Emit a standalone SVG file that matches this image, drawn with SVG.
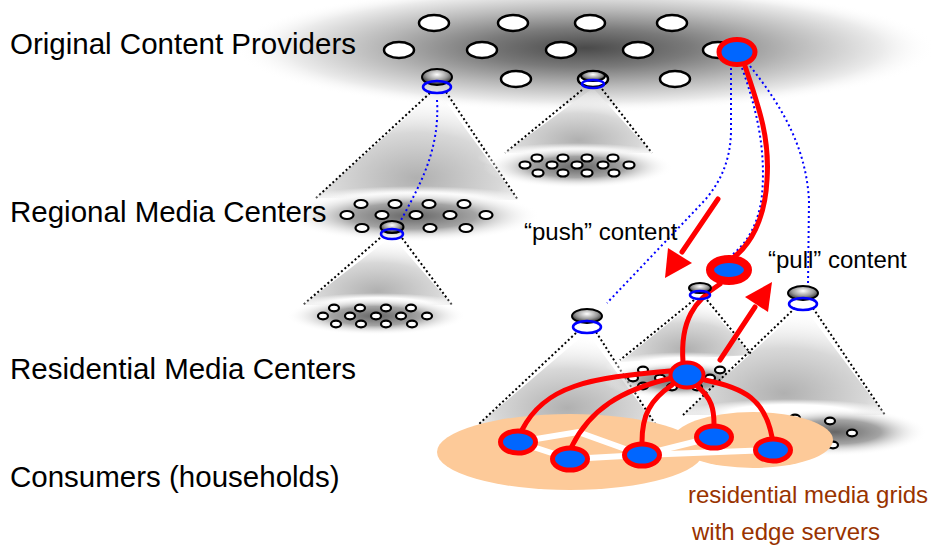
<svg xmlns="http://www.w3.org/2000/svg" width="933" height="546" viewBox="0 0 933 546">
<defs>
<radialGradient id="blob" cx="0.5" cy="0.5" r="0.5">
 <stop offset="0" stop-color="#4a4a4a"/>
 <stop offset="0.3" stop-color="#7a7a7a"/>
 <stop offset="0.6" stop-color="#bababa"/>
 <stop offset="0.85" stop-color="#ebebeb"/>
 <stop offset="1" stop-color="#fff" stop-opacity="0"/>
</radialGradient>
<radialGradient id="cone" cx="0.5" cy="0.8" r="0.75">
 <stop offset="0" stop-color="#b0b0b0"/>
 <stop offset="0.55" stop-color="#d8d8d8"/>
 <stop offset="1" stop-color="#fff" stop-opacity="0.2"/>
</radialGradient>
<radialGradient id="dish" cx="0.5" cy="0.5" r="0.5">
 <stop offset="0" stop-color="#666"/>
 <stop offset="0.5" stop-color="#a4a4a4"/>
 <stop offset="1" stop-color="#fff" stop-opacity="0"/>
</radialGradient>
<radialGradient id="lipg" cx="0.5" cy="0.5" r="0.5">
 <stop offset="0.6" stop-color="#fff"/>
 <stop offset="1" stop-color="#fff" stop-opacity="0"/>
</radialGradient>
<radialGradient id="srv" cx="0.5" cy="0.35" r="0.6">
 <stop offset="0" stop-color="#fff"/>
 <stop offset="0.6" stop-color="#999"/>
 <stop offset="1" stop-color="#333"/>
</radialGradient>
</defs>
<style>
 .lbl{font-family:"Liberation Sans",Arial,sans-serif;font-size:29.5px;fill:#000}
 .cap{font-family:"Liberation Sans",Arial,sans-serif;font-size:24px;fill:#000}
 .brown{font-family:"Liberation Sans",Arial,sans-serif;font-size:24px;fill:#993300}
 .pv{fill:#fff;stroke:#000;stroke-width:2.5}
 .sm{fill:#fff;stroke:#000;stroke-width:2.2}
 .dot{fill:none;stroke:#000;stroke-width:2;stroke-dasharray:2 2.5}
 .bdot{fill:none;stroke:#0000ff;stroke-width:2;stroke-dasharray:2 3}
 .srv{fill:url(#srv);stroke:#000;stroke-width:2}
 .ring{fill:none;stroke:#0000ff;stroke-width:2.5}
 .red{fill:none;stroke:#ff0000;stroke-width:5;stroke-linecap:round}
 .node{fill:#0066ff;stroke:#ff0000;stroke-width:5}
 .grid{fill:none;stroke:#fff;stroke-width:6}
 .cone{fill:url(#cone)}
 .dish{fill:url(#dish)}
 .lip{fill:url(#lipg)}
 .or{fill:#fdca99}
 .ah{fill:#ff0000}
</style>
<rect width="933" height="546" fill="#fff"/>

<!-- top blob -->
<ellipse cx="585" cy="48" rx="350" ry="64" fill="url(#blob)"/>

<!-- cone 1 + regional dish -->
<g id="cone1">
 <polygon class="cone" points="437,90 316,198 518,200"/>
 <line class="dot" x1="430" y1="93" x2="316" y2="198"/>
 <line class="dot" x1="446" y1="92" x2="518" y2="200"/>
 <ellipse class="lip" cx="415" cy="203" rx="125" ry="17"/>
 <ellipse class="dish" cx="412" cy="216" rx="128" ry="26"/>
</g>
<g id="regional-cluster">
 <ellipse class="sm" cx="361" cy="204" rx="6.5" ry="4"/>
 <ellipse class="sm" cx="395" cy="204" rx="6.5" ry="4"/>
 <ellipse class="sm" cx="429" cy="204" rx="6.5" ry="4"/>
 <ellipse class="sm" cx="464" cy="204" rx="6.5" ry="4"/>
 <ellipse class="sm" cx="347" cy="215" rx="6.5" ry="4"/>
 <ellipse class="sm" cx="382" cy="215" rx="6.5" ry="4"/>
 <ellipse class="sm" cx="416" cy="215" rx="6.5" ry="4"/>
 <ellipse class="sm" cx="450" cy="215" rx="6.5" ry="4"/>
 <ellipse class="sm" cx="486" cy="215" rx="6.5" ry="4"/>
 <ellipse class="sm" cx="362" cy="228" rx="6.5" ry="4"/>
 <ellipse class="sm" cx="430" cy="228" rx="6.5" ry="4"/>
 <ellipse class="sm" cx="466" cy="228" rx="6.5" ry="4"/>
</g>

<!-- cone 3 -->
<g id="cone3">
 <polygon class="cone" points="593,88 505,153 652,153"/>
 <line class="dot" x1="582" y1="90" x2="505" y2="153"/>
 <line class="dot" x1="602" y1="89" x2="652" y2="153"/>
 <ellipse class="lip" cx="575" cy="158" rx="98" ry="15"/>
 <ellipse class="dish" cx="578" cy="167" rx="95" ry="21"/>
 <ellipse class="sm" cx="537" cy="158" rx="5.5" ry="3.5"/>
 <ellipse class="sm" cx="563" cy="158" rx="5.5" ry="3.5"/>
 <ellipse class="sm" cx="587" cy="158" rx="5.5" ry="3.5"/>
 <ellipse class="sm" cx="613" cy="158" rx="5.5" ry="3.5"/>
 <ellipse class="sm" cx="525" cy="165" rx="5.5" ry="3.5"/>
 <ellipse class="sm" cx="552" cy="165" rx="5.5" ry="3.5"/>
 <ellipse class="sm" cx="577" cy="165" rx="5.5" ry="3.5"/>
 <ellipse class="sm" cx="603" cy="165" rx="5.5" ry="3.5"/>
 <ellipse class="sm" cx="629" cy="165" rx="5.5" ry="3.5"/>
 <ellipse class="sm" cx="538" cy="173" rx="5.5" ry="3.5"/>
 <ellipse class="sm" cx="563" cy="173" rx="5.5" ry="3.5"/>
 <ellipse class="sm" cx="587" cy="173" rx="5.5" ry="3.5"/>
 <ellipse class="sm" cx="614" cy="173" rx="5.5" ry="3.5"/>
</g>

<!-- cone 2 -->
<g id="cone2">
 <polygon class="cone" points="392,236 303,305 452,305"/>
 <line class="dot" x1="380" y1="238" x2="303" y2="305"/>
 <line class="dot" x1="402" y1="238" x2="452" y2="305"/>
 <ellipse class="lip" cx="378" cy="305" rx="85" ry="12"/>
 <ellipse class="dish" cx="376" cy="316" rx="90" ry="19"/>
 <ellipse class="sm" cx="334" cy="308" rx="5" ry="3.3"/>
 <ellipse class="sm" cx="360" cy="308" rx="5" ry="3.3"/>
 <ellipse class="sm" cx="386" cy="308" rx="5" ry="3.3"/>
 <ellipse class="sm" cx="411" cy="308" rx="5" ry="3.3"/>
 <ellipse class="sm" cx="323" cy="316" rx="5" ry="3.3"/>
 <ellipse class="sm" cx="350" cy="316" rx="5" ry="3.3"/>
 <ellipse class="sm" cx="376" cy="316" rx="5" ry="3.3"/>
 <ellipse class="sm" cx="401" cy="316" rx="5" ry="3.3"/>
 <ellipse class="sm" cx="427" cy="316" rx="5" ry="3.3"/>
 <ellipse class="sm" cx="336" cy="324" rx="5" ry="3.3"/>
 <ellipse class="sm" cx="361" cy="324" rx="5" ry="3.3"/>
 <ellipse class="sm" cx="386" cy="324" rx="5" ry="3.3"/>
 <ellipse class="sm" cx="412" cy="324" rx="5" ry="3.3"/>
</g>

<!-- residential cones -->
<g id="coneA">
 <polygon class="cone" points="587,332 478,425 657,427"/>
 <line class="dot" x1="576" y1="333" x2="478" y2="425"/>
 <line class="dot" x1="596" y1="332" x2="657" y2="427"/>
</g>
<g id="coneB">
 <polygon class="cone" points="700,298 620,362 752,355"/>
 <line class="dot" x1="694" y1="300" x2="620" y2="360"/>
 <line class="dot" x1="707" y1="300" x2="752" y2="355"/>
 <ellipse class="lip" cx="685" cy="366" rx="80" ry="14"/>
 <ellipse class="dish" cx="680" cy="380" rx="78" ry="19"/>
 <ellipse class="sm" cx="643" cy="370" rx="5" ry="3.3"/>
 <ellipse class="sm" cx="633" cy="378" rx="5" ry="3.3"/>
 <ellipse class="sm" cx="660" cy="378" rx="5" ry="3.3"/>
 <ellipse class="sm" cx="643" cy="386" rx="5" ry="3.3"/>
 <ellipse class="sm" cx="672" cy="387" rx="5" ry="3.3"/>
 <ellipse class="sm" cx="697" cy="387" rx="5" ry="3.3"/>
 <ellipse class="sm" cx="720" cy="370" rx="5" ry="3.3"/>
 <ellipse class="sm" cx="710" cy="378" rx="5" ry="3.3"/>
</g>
<g id="coneC">
 <polygon class="cone" points="803,306 683,415 885,415"/>
 <line class="dot" x1="795" y1="308" x2="683" y2="415"/>
 <line class="dot" x1="813" y1="308" x2="885" y2="415"/>
 <ellipse class="lip" cx="790" cy="413" rx="105" ry="14"/>
 <ellipse class="dish" cx="835" cy="432" rx="92" ry="24"/>
 <ellipse class="sm" cx="795" cy="418" rx="5" ry="3.3"/>
 <ellipse class="sm" cx="830" cy="421" rx="5" ry="3.3"/>
 <ellipse class="sm" cx="852" cy="433" rx="5" ry="3.3"/>
 <ellipse class="sm" cx="833" cy="445" rx="5" ry="3.3"/>
</g>

<!-- residential media grids -->
<g id="grids">
 <ellipse class="or" cx="570" cy="452" rx="133" ry="38"/>
 <ellipse class="or" cx="753" cy="440" rx="80" ry="28"/>
 <polyline class="grid" points="518,442 578,432 642,455"/>
 <line class="grid" x1="518" y1="442" x2="570" y2="459"/>
 <line class="grid" x1="570" y1="459" x2="642" y2="455"/>
 <line class="grid" x1="642" y1="455" x2="714" y2="437"/>
 <line class="grid" x1="642" y1="455" x2="773" y2="450"/>
</g>

<!-- providers -->
<g id="providers">
 <ellipse class="pv" cx="434" cy="23" rx="15" ry="8"/>
 <ellipse class="pv" cx="513" cy="23" rx="15" ry="8"/>
 <ellipse class="pv" cx="590" cy="23" rx="15" ry="8"/>
 <ellipse class="pv" cx="672" cy="23" rx="15" ry="8"/>
 <ellipse class="pv" cx="399" cy="50" rx="15" ry="8"/>
 <ellipse class="pv" cx="482" cy="50" rx="15" ry="8"/>
 <ellipse class="pv" cx="561" cy="50" rx="15" ry="8"/>
 <ellipse class="pv" cx="638" cy="50" rx="15" ry="8"/>
 <ellipse class="pv" cx="718" cy="50" rx="15" ry="8"/>
 <ellipse class="pv" cx="516" cy="79" rx="15" ry="8"/>
 <ellipse class="pv" cx="675" cy="79" rx="15" ry="8"/>
</g>

<!-- connectors -->
<g id="connectors">
 <path class="bdot" d="M437,100 C440,150 420,185 400,222"/>
 <path class="bdot" d="M731,68 L731,130 Q731,170 705,200 L607,303"/>
 <path class="bdot" d="M742,68 C757,110 766,150 762,195 C758,230 742,250 724,260"/>
 <path class="bdot" d="M750,66 C785,110 806,150 809,200 L808,285"/>
 <path class="red" d="M745,66 C760,110 770,140 767,180 C765,220 750,245 733,258"/>
 <path class="red" d="M720,284 C695,300 680,320 683,362"/>
 <path class="red" d="M670,371 C590,378 545,385 522,430"/>
 <path class="red" d="M672,378 C620,390 590,410 572,446"/>
 <path class="red" d="M672,385 C650,400 642,415 642,442"/>
 <path class="red" d="M697,386 C712,398 714,410 714,424"/>
 <path class="red" d="M705,380 C745,388 765,400 772,437"/>
 <line class="red" x1="718" y1="199" x2="682" y2="252"/>
 <polygon class="ah" points="668,248 692,263 665,278"/>
 <line class="red" x1="720" y1="360" x2="755" y2="307"/>
 <polygon class="ah" points="745,297 772,282 768,312"/>
</g>

<!-- servers -->
<g id="server-top1">
 <ellipse class="srv" cx="437" cy="77" rx="15" ry="8"/>
 <ellipse class="ring" cx="437" cy="87" rx="14" ry="6"/>
</g>
<g id="server-top2">
 <ellipse class="pv" cx="593" cy="79" rx="15" ry="8"/>
 <ellipse class="srv" cx="593" cy="76" rx="12" ry="5"/>
 <ellipse class="ring" cx="593" cy="84" rx="11" ry="4"/>
</g>
<g id="server-regional">
 <ellipse class="srv" cx="392" cy="227" rx="11.5" ry="6"/>
 <ellipse class="ring" cx="392" cy="234" rx="11" ry="5"/>
</g>
<g id="server-resA">
 <ellipse class="srv" cx="587" cy="316" rx="15" ry="7"/>
 <ellipse class="ring" cx="587" cy="327" rx="14" ry="6"/>
</g>
<g id="server-resB">
 <ellipse class="srv" cx="700" cy="288" rx="11" ry="5"/>
 <ellipse class="ring" cx="700" cy="295" rx="10" ry="4"/>
</g>
<g id="server-resC">
 <ellipse class="srv" cx="803" cy="293" rx="15" ry="7"/>
 <ellipse class="ring" cx="803" cy="304" rx="14" ry="6"/>
</g>

<!-- red/blue nodes -->
<g id="source"><ellipse class="node" cx="737" cy="52" rx="18" ry="12.5"/></g>
<g id="regional-copy"><ellipse class="node" cx="729" cy="270" rx="19" ry="11" style="stroke-width:8"/></g>
<g id="hub"><ellipse class="node" cx="687" cy="375" rx="16.5" ry="12.5" style="stroke-width:4"/></g>
<g id="c1"><ellipse class="node" cx="518" cy="442" rx="17.5" ry="11"/></g>
<g id="c2"><ellipse class="node" cx="570" cy="459" rx="17.5" ry="11"/></g>
<g id="c3"><ellipse class="node" cx="642" cy="455" rx="17.5" ry="11"/></g>
<g id="c4"><ellipse class="node" cx="714" cy="437" rx="17.5" ry="11"/></g>
<g id="c5"><ellipse class="node" cx="773" cy="450" rx="17.5" ry="11"/></g>

<!-- labels -->
<g id="labels">
 <text class="lbl" x="10" y="54">Original Content Providers</text>
 <text class="lbl" x="10" y="222">Regional Media Centers</text>
 <text class="lbl" x="10" y="379">Residential Media Centers</text>
 <text class="lbl" x="10" y="487">Consumers (households)</text>
 <text class="cap" x="524" y="240">“push” content</text>
 <text class="cap" x="768" y="268">“pull” content</text>
 <text class="brown" x="688" y="503">residential media grids</text>
 <text class="brown" x="692" y="540">with edge servers</text>
</g>
</svg>
